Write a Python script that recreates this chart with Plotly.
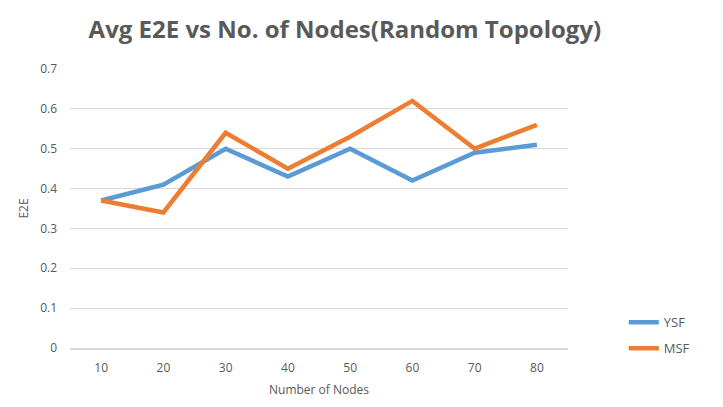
import plotly.graph_objects as go

# data
nodes = ["10", "20", "30", "40", "50", "60", "70", "80"]
ysf = [0.37, 0.41, 0.50, 0.43, 0.50, 0.42, 0.49, 0.51]
msf = [0.37, 0.34, 0.54, 0.45, 0.53, 0.62, 0.50, 0.56]
y_ticks = [0, 0.1, 0.2, 0.3, 0.4, 0.5, 0.6, 0.7]
y_labels = ["0", "0.1", "0.2", "0.3", "0.4", "0.5", "0.6", "0.7"]

fig = go.Figure()
fig.add_trace(go.Scatter(x=nodes, y=ysf, name="YSF", mode="lines",
                         line=dict(color="#5B9BD5", width=4.5),
                         legendgroup="a"))
fig.add_trace(go.Scatter(x=nodes, y=msf, name="MSF", mode="lines",
                         line=dict(color="#ED7D31", width=4.5),
                         legendgroup="b"))

fig.update_layout(
    width=723, height=407,
    margin=dict(l=62, r=163, t=61, b=67, autoexpand=False),
    paper_bgcolor="white", plot_bgcolor="white",
    font=dict(family="Open Sans", color="#595959", size=12),
    title=dict(text="<b>Avg E2E vs No. of Nodes(Random Topology)</b>",
               x=0.466, xanchor="center", y=0.946, yanchor="middle",
               font=dict(size=24, color="#595959")),
    legend=dict(x=1.112, xanchor="left", y=-0.055, yanchor="bottom",
                traceorder="grouped", tracegroupgap=6,
                font=dict(size=13, color="#595959")),
)
fig.update_xaxes(type="category", range=[-0.5, 7.5], showgrid=False,
                 showline=True, linecolor="#d9d9d9", linewidth=2, ticks="",
                 ticklabelstandoff=8,
                 title=dict(text="Number of Nodes", standoff=10,
                            font=dict(size=12, color="#595959")))
fig.update_yaxes(range=[0, 0.7], tickvals=y_ticks, ticktext=y_labels,
                 showgrid=True, gridcolor="#d9d9d9", gridwidth=1,
                 zeroline=False, showline=False, ticks="",
                 ticklabelstandoff=12,
                 title=dict(text="E2E", standoff=8,
                            font=dict(size=12, color="#595959")))

fig.write_html("out.html")
